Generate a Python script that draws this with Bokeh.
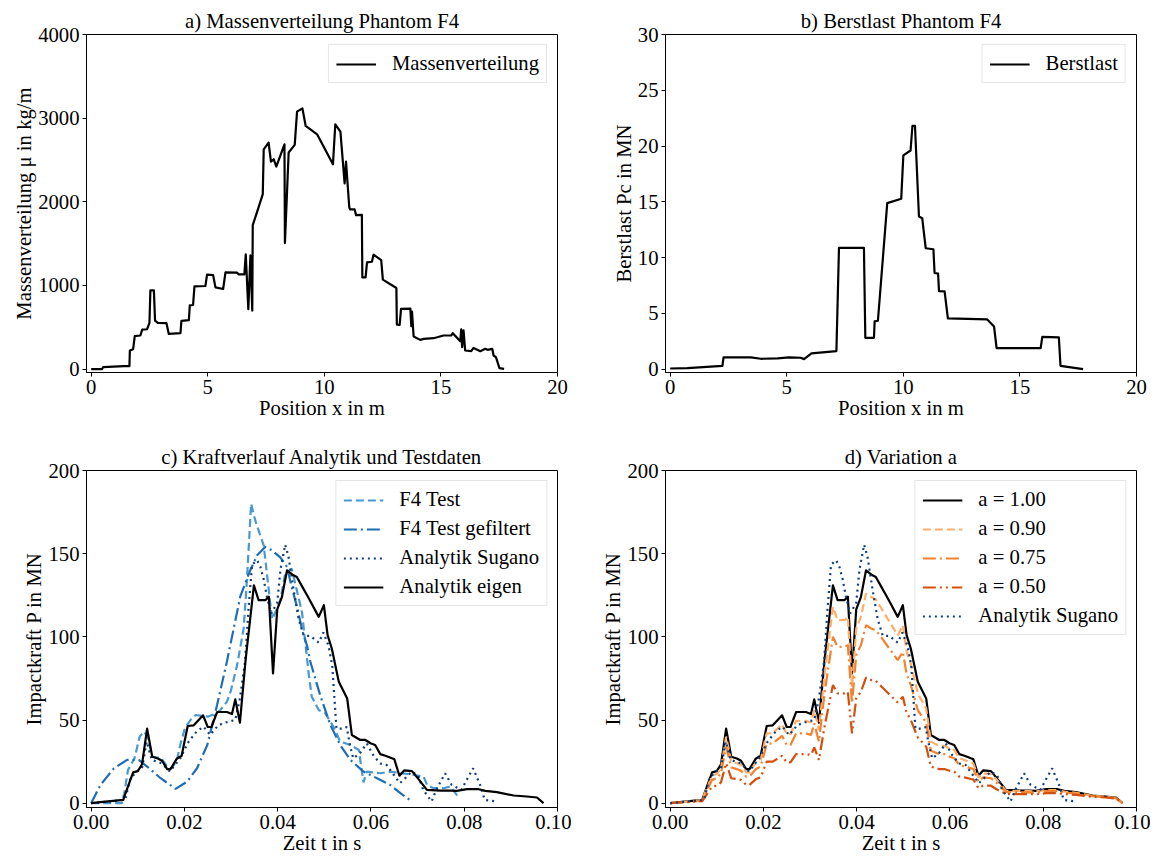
from bokeh.plotting import figure
from bokeh.layouts import gridplot
from bokeh.models import Range1d, FixedTicker, PrintfTickFormatter
from bokeh.embed import file_html
from bokeh.resources import INLINE

# ---------------- data ----------------
# a) mass distribution
x_mass = [0.0, 0.47, 0.51, 1.4, 1.64, 1.66, 1.8, 1.87, 2.11, 2.19,
          2.4, 2.5, 2.54, 2.69, 2.74, 2.86, 3.23, 3.33, 3.83, 3.87,
          4.19, 4.23, 4.37, 4.43, 4.9, 4.97, 5.23, 5.33, 5.66, 5.76,
          6.26, 6.33, 6.57, 6.63, 6.74, 6.83, 6.91, 6.93, 7.11, 7.36,
          7.4, 7.61, 7.71, 7.83, 7.94, 8.29, 8.31, 8.47, 8.73, 8.83,
          9.06, 9.2, 9.69, 10.37, 10.47, 10.69, 10.87, 10.93, 11.07, 11.11,
          11.3, 11.36, 11.61, 11.63, 11.77, 11.83, 12.04, 12.11, 12.44, 12.51,
          13.09, 13.11, 13.23, 13.29, 13.69, 13.73, 13.76, 13.83, 14.11, 14.26,
          14.69, 15.11, 15.44, 15.51, 15.83, 15.87, 15.91, 15.97, 16.04, 16.3,
          16.4, 16.69, 16.9, 17.0, 17.2, 17.26, 17.36, 17.51, 17.71]
mu = [0, 0, 24, 36, 36, 223, 239, 394, 402, 473,
      477, 553, 942, 942, 580, 553, 549, 421, 430, 577,
      585, 763, 767, 990, 994, 1129, 1125, 978, 958, 1157,
      1153, 1133, 1133, 1372, 716, 1360, 700, 1722, 1873, 2092,
      2628, 2708, 2481, 2509, 2422, 2688, 1507, 2589, 2680, 3078,
      3117, 2907, 2807, 2449, 2926, 2839, 2219, 2481, 1932, 1909,
      1909, 1841, 1845, 1097, 1097, 1276, 1284, 1368, 1304, 1070,
      970, 533, 529, 720, 724, 513, 688, 390, 350, 362,
      370, 402, 402, 429, 334, 477, 262, 465, 223, 215,
      254, 215, 243, 231, 243, 163, 143, 12, 4]

# b) crushing load
x_burst = [0, 0.74, 2.24, 2.29, 3.46, 3.89, 4.6, 5.1, 5.6, 5.74,
           6.06, 7.13, 7.24, 8.31, 8.37, 8.74, 8.77, 8.91, 9.31, 9.91,
           10.0, 10.31, 10.39, 10.5, 10.67, 10.81, 10.96, 11.29, 11.34, 11.49,
           11.53, 11.77, 11.91, 13.6, 13.89, 14.0, 15.89, 15.96, 16.67, 16.74, 17.71]
p_burst = [0.06, 0.09, 0.3, 1.05, 1.05, 0.93, 0.96, 1.05, 1.02, 0.9,
           1.41, 1.62, 10.87, 10.87, 2.81, 2.81, 4.28, 4.34, 14.88, 15.27,
           19.16, 19.6, 21.8, 21.8, 13.68, 13.53, 10.84, 10.75, 8.62, 8.56,
           7.0, 6.98, 4.55, 4.46, 3.83, 1.89, 1.89, 2.9, 2.84, 0.3, 0.0]

# c) / d) own analytic model (a = 1.00) and its variations
t_eig = [0.0, 0.002, 0.0069, 0.0071, 0.009, 0.010, 0.0109, 0.012, 0.0131, 0.0143,
         0.0152, 0.0163, 0.017, 0.0184, 0.0194, 0.0207, 0.022, 0.024, 0.025, 0.0258,
         0.027, 0.0291, 0.0302, 0.0309, 0.0319, 0.0331, 0.0349, 0.0359, 0.0374, 0.0381,
         0.039, 0.0399, 0.0409, 0.042, 0.0431, 0.0441, 0.0452, 0.0466, 0.0488, 0.0499,
         0.0507, 0.0516, 0.0531, 0.0549, 0.0559, 0.0577, 0.0588, 0.0599, 0.0609, 0.062,
         0.0631, 0.0645, 0.065, 0.0661, 0.0671, 0.0688, 0.0699, 0.072, 0.0749, 0.077,
         0.0784, 0.0806, 0.0831, 0.0845, 0.087, 0.0906, 0.0934, 0.0956, 0.097]
p_a100 = [0, 0.6, 2, 4, 18.5, 19.3, 23.3, 44.8, 27.9, 26.9,
          25.5, 20.5, 20.5, 26.9, 28.5, 46.4, 46.8, 52.8, 45.8, 45.8,
          54.8, 54.8, 53.6, 62.4, 48.4, 85.7, 130.9, 122.1, 122.1, 124.1,
          78, 116.5, 123.9, 140, 137.5, 136, 130.5, 123.5, 112, 119,
          101, 93, 73, 63, 41, 38, 38, 36, 35, 29.5,
          28.5, 27, 26.5, 16.5, 19.7, 19.3, 15.5, 8, 7.6, 7.6,
          7.4, 8.4, 8.4, 7.4, 6.6, 4.6, 4, 3.4, 0]
p_a090 = [0, 0.5, 1.8, 3.6, 16.5, 17.5, 21, 40, 25, 24,
          23, 18.5, 18.5, 24.5, 26, 42, 42, 47.5, 41.5, 41.5,
          49.5, 49.5, 48.5, 56, 44, 77, 118, 110, 110, 112,
          70, 105, 112, 126, 124, 122.5, 117.5, 111, 101, 107,
          91, 84, 66, 57, 37, 34.5, 34.5, 33, 32, 27,
          26, 24.5, 24, 15.5, 18, 17.5, 14.5, 7.5, 7.2, 7.2,
          7, 7.8, 7.8, 7, 6.2, 4.4, 3.8, 3.2, 0]
p_a075 = [0, 0.5, 1.5, 3, 14, 15, 18, 34, 21.5, 20.5,
          19.5, 16, 16, 20.5, 22, 35.5, 36, 40.5, 35, 35,
          42, 42, 41, 48, 37, 66, 100, 94, 94, 95,
          60, 89, 95, 107, 105, 104, 100, 94.5, 86, 91,
          77.5, 71, 56, 48.5, 31.5, 29.5, 29.5, 28, 27, 23,
          22, 21, 20.5, 13, 15.5, 15, 12.5, 6.8, 6.5, 6.5,
          6.3, 7.2, 7.2, 6.4, 5.8, 4.2, 3.6, 3, 0]
p_a050 = [0, 0.4, 1.2, 2.2, 10, 10.5, 12.5, 24, 15, 14.5,
          14, 11, 11, 14.5, 15.5, 25, 25, 28.5, 24.5, 24.5,
          29.5, 29.5, 29, 33.5, 26, 46, 71, 66, 66, 67,
          42, 63, 67, 75.5, 74, 73.5, 70.5, 66.5, 60.5, 64,
          54.5, 50, 39.5, 34, 22, 20.5, 20.5, 19.5, 19, 16,
          15.5, 14.5, 14.3, 9, 10.5, 10.5, 8.5, 5.5, 5.5, 5.5,
          5.3, 6, 6, 5.5, 5, 3.8, 3.4, 2.8, 0]

# Sugano analytic model
t_sug = [0, 0.0073, 0.0084, 0.0098, 0.0109, 0.0119, 0.013, 0.0151, 0.0169, 0.0191,
         0.0209, 0.0226, 0.0241, 0.0255, 0.0273, 0.0294, 0.0309, 0.0319, 0.033, 0.0337,
         0.0345, 0.0356, 0.0363, 0.037, 0.0377, 0.0386, 0.0399, 0.0406, 0.0416, 0.0423,
         0.0434, 0.0445, 0.0456, 0.047, 0.0488, 0.0498, 0.0509, 0.0517, 0.0526, 0.0541,
         0.0548, 0.0555, 0.0562, 0.0576, 0.0591, 0.0605, 0.0619, 0.0634, 0.0644, 0.0662,
         0.0673, 0.0687, 0.0701, 0.0712, 0.073, 0.074, 0.0759, 0.0773, 0.0794, 0.0809,
         0.0819, 0.0834, 0.0844, 0.0869]
p_sug = [0, 2, 15, 19, 21, 37, 26, 24, 19, 27,
         37, 43, 46, 41, 47, 49, 50, 63, 85, 115,
         143.5, 146, 142, 134.5, 124, 114, 120.5, 140.5, 155.4, 148.4,
         128.5, 110.6, 100.6, 100.6, 96.5, 102.6, 94.6, 82.7, 44.8, 44.8,
         45.8, 34.9, 26.9, 29.9, 35.9, 28.9, 23.9, 22.9, 18.9, 12,
         14.9, 18.9, 16.9, 8, 1, 8, 17.9, 11, 8, 15.9,
         20.9, 11, 2, 1]

# F4 test data
t_test = [0, 0.0066, 0.0071, 0.0079, 0.0093, 0.0104, 0.0113, 0.0121, 0.0131, 0.015,
          0.0166, 0.0173, 0.0184, 0.0191, 0.0201, 0.0213, 0.0224, 0.025, 0.0269, 0.0277,
          0.0291, 0.0299, 0.0306, 0.0313, 0.0327, 0.0334, 0.0343, 0.035, 0.0354, 0.037,
          0.0388, 0.0398, 0.0406, 0.0416, 0.043, 0.0452, 0.0466, 0.0473, 0.0488, 0.0502,
          0.052, 0.0534, 0.0556, 0.0574, 0.0584, 0.0591, 0.062, 0.0641, 0.0691, 0.0713,
          0.072, 0.0734, 0.0756, 0.077, 0.0784, 0.0791]
p_test = [0, 0, 6, 20, 27, 40, 43, 40, 28, 27,
          21, 21, 26, 35, 45, 50, 53, 52, 54, 56,
          61, 67, 75, 83, 105, 134, 180, 172, 168, 155,
          110.6, 116.6, 122.5, 138, 141, 115, 79, 64, 56, 54,
          45.8, 37, 35, 32, 12.5, 19, 18, 19, 17, 16,
          11, 9, 9, 10, 5, 3.8]

# F4 test data, filtered
t_filt = [0, 0.002, 0.0049, 0.0077, 0.0102, 0.012, 0.0149, 0.0181, 0.0206, 0.0227,
          0.0249, 0.027, 0.0291, 0.032, 0.0341, 0.0356, 0.0373, 0.0388, 0.0406, 0.042,
          0.043, 0.0441, 0.0452, 0.0463, 0.047, 0.0491, 0.0513, 0.0534, 0.0556, 0.0584,
          0.0613, 0.0641, 0.0663, 0.0688]
p_filt = [0, 11, 21, 26, 26, 22, 15, 8.6, 13, 21,
          35, 59, 85, 124.5, 140, 149, 154, 152, 147.6, 142,
          130, 118.5, 104.6, 94.6, 85, 65, 47, 35, 26, 19,
          15, 11, 6, 1]

ticks_pos = [0, 5, 10, 15, 20]
ticks_mass = [0, 1000, 2000, 3000, 4000]
ticks_burst = [0, 5, 10, 15, 20, 25, 30]
ticks_time = [0.0, 0.02, 0.04, 0.06, 0.08, 0.10]
ticks_force = [0, 50, 100, 150, 200]

# ---------------- styling helpers ----------------
FONT = "Liberation Serif"
FS = "20.7px"
FW = 471

DASHED = "8 4"
DASHDOT = "13 4 2 4"
DOTTED = "2 4"
DASHDOTDOT = "13 4 2 4 2 4"


def make_fig(title, xr, yr, xt, yt, xlab, ylab, left, right, top, bottom, fh, xfmt=None):
    p = figure(frame_width=FW, frame_height=fh,
               x_range=Range1d(*xr), y_range=Range1d(*yr),
               output_backend="svg", toolbar_location=None, title=title,
               min_border_left=left, min_border_right=right,
               min_border_top=top, min_border_bottom=bottom)
    p.title.text_font = FONT
    p.title.text_font_size = FS
    p.title.text_font_style = "normal"
    p.title.text_color = "black"
    p.title.align = "center"
    p.title.standoff = 5
    for ax in (p.xaxis[0], p.yaxis[0]):
        ax.major_label_text_font = FONT
        ax.major_label_text_font_size = FS
        ax.major_label_text_color = "black"
        ax.axis_label_text_font = FONT
        ax.axis_label_text_font_size = FS
        ax.axis_label_text_font_style = "normal"
        ax.axis_label_text_color = "black"
        ax.major_tick_out = 4
        ax.major_tick_in = 0
        ax.minor_tick_line_color = None
        ax.axis_line_color = "black"
        ax.major_tick_line_color = "black"
        ax.major_label_standoff = 3
        ax.axis_label_standoff = 0
    p.xaxis.axis_label = xlab
    p.yaxis.axis_label = ylab
    p.xaxis.ticker = FixedTicker(ticks=xt)
    p.yaxis.ticker = FixedTicker(ticks=yt)
    if xfmt:
        p.xaxis.formatter = PrintfTickFormatter(format=xfmt)
    p.xgrid.visible = False
    p.ygrid.visible = False
    p.outline_line_color = "black"
    p.outline_line_alpha = 1.0
    p.background_fill_color = "white"
    p.border_fill_color = "white"
    return p


def style_legend(p):
    lg = p.legend[0]
    lg.location = "top_right"
    lg.label_text_font = FONT
    lg.label_text_font_size = FS
    lg.label_text_color = "black"
    lg.glyph_width = 40
    lg.glyph_height = 20
    lg.label_height = 20
    lg.label_standoff = 16
    lg.spacing = 6
    lg.padding = 7
    lg.margin = 10
    lg.border_line_color = "#cccccc"
    lg.border_line_width = 1
    lg.background_fill_alpha = 0.85


LW = 2.2

# a)
pa = make_fig("a) Massenverteilung Phantom F4", (-0.2, 20), (-40, 4000),
              ticks_pos, ticks_mass, "Position x in m", "Massenverteilung \u03bc in kg/m",
              86, 14, 34, 53, 338)
pa.line(x_mass, mu, line_color="black", line_width=LW, line_join="round",
        legend_label="Massenverteilung")
style_legend(pa)

# b)
pb = make_fig("b) Berstlast Phantom F4", (-0.2, 20), (-0.3, 30),
              ticks_pos, ticks_burst, "Position x in m", "Berstlast Pc in MN",
              94, 14, 34, 53, 338)
pb.line(x_burst, p_burst, line_color="black", line_width=LW, line_join="round",
        legend_label="Berstlast")
style_legend(pb)

# c)
pc = make_fig("c) Kraftverlauf Analytik und Testdaten", (-0.001, 0.1), (-2.6, 200),
              ticks_time, ticks_force, "Zeit t in s", "Impactkraft P in MN",
              86, 14, 45, 50, 337, xfmt="%.2f")
pc.line(t_test, p_test, line_color="#4a98d0", line_width=LW, line_dash=DASHED,
        legend_label="F4 Test")
pc.line(t_filt, p_filt, line_color="#1f6db3", line_width=LW, line_dash=DASHDOT,
        legend_label="F4 Test gefiltert")
pc.line(t_sug, p_sug, line_color="#0e3d7e", line_width=LW, line_dash=DOTTED,
        legend_label="Analytik Sugano")
pc.line(t_eig, p_a100, line_color="black", line_width=LW, line_join="round",
        legend_label="Analytik eigen")
style_legend(pc)

# d)
pd_ = make_fig("d) Variation a", (-0.001, 0.1), (-2.6, 200),
               ticks_time, ticks_force, "Zeit t in s", "Impactkraft P in MN",
               94, 14, 45, 50, 337, xfmt="%.2f")
pd_.line(t_eig, p_a100, line_color="black", line_width=LW, line_join="round",
         legend_label="a = 1.00")
pd_.line(t_eig, p_a090, line_color="#fdae6b", line_width=LW, line_dash=DASHED,
         legend_label="a = 0.90")
pd_.line(t_eig, p_a075, line_color="#f3812e", line_width=LW, line_dash=DASHDOT,
         legend_label="a = 0.75")
pd_.line(t_eig, p_a050, line_color="#d54f0c", line_width=LW, line_dash=DASHDOTDOT,
         legend_label="a = 0.50")
pd_.line(t_sug, p_sug, line_color="#0e3d7e", line_width=LW, line_dash=DOTTED,
         legend_label="Analytik Sugano")
style_legend(pd_)

grid = gridplot([[pa, pb], [pc, pd_]], toolbar_location=None)

open("out.html", "w").write(file_html(grid, INLINE))
